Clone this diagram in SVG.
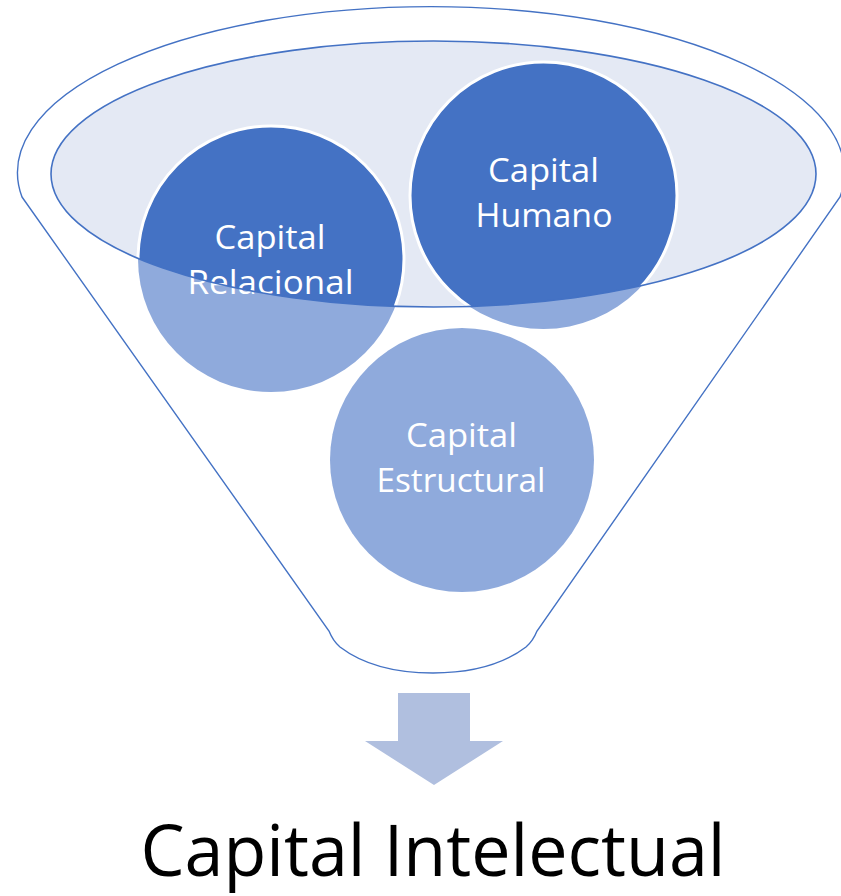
<svg xmlns="http://www.w3.org/2000/svg" width="841" height="896" viewBox="0 0 841 896">
<style>
.outline{fill:#FFFFFF;stroke:#4472C4;stroke-width:1.4}
.rim{fill:#E4E9F4;stroke:none}
.rimline{fill:none;stroke:#4472C4;stroke-width:1.6}
.light{fill:#8FAADC}
.dark{fill:#4472C4;stroke:#FFFFFF;stroke-width:3}
.lbl{font-family:"Open Sans","Noto Sans","Liberation Sans",sans-serif;font-size:32px;fill:#FFFFFF;text-anchor:middle}
.title{font-family:"Open Sans","Noto Sans","Liberation Sans",sans-serif;font-size:71px;fill:#000000;text-anchor:middle}
.arrow{fill:#B0BFDF}
</style>
<defs>
<clipPath id="rimClip"><ellipse cx="433.5" cy="174" rx="382.5" ry="133"/></clipPath>
</defs>
<g id="funnel">
<path class="outline" d="M 22 197 L 329 631 Q 333 641 340 647 C 365 666 400 673 433 673 C 466 673 501 666 526 647 Q 533 641 537 631 L 840 197 A 413.5 166 0 1 0 22 197 Z"/>
<ellipse class="rim" cx="433.5" cy="174" rx="382.5" ry="133"/>
</g>
<g id="connectors">
<path id="arrow" class="arrow" d="M 398 693 L 470 693 L 470 741 L 503 741 L 434 785 L 365 741 L 398 741 Z"/>
</g>
<g id="node-relacional">
<circle class="light" cx="271" cy="259" r="133"/>
<circle class="dark" cx="271" cy="259" r="133" clip-path="url(#rimClip)"/>
</g>
<g id="node-humano">
<circle class="light" cx="543.5" cy="195.5" r="133.5"/>
<circle class="dark" cx="543.5" cy="195.5" r="133.5" clip-path="url(#rimClip)"/>
</g>
<g id="node-estructural">
<circle class="light" cx="462" cy="460" r="132"/>
</g>
<g id="labels">
<text class="lbl" x="270" y="249" textLength="111" lengthAdjust="spacingAndGlyphs">Capital</text>
<text class="lbl" x="270.5" y="294" textLength="166" lengthAdjust="spacingAndGlyphs">Relacional</text>
<text class="lbl" x="543.5" y="182" textLength="111" lengthAdjust="spacingAndGlyphs">Capital</text>
<text class="lbl" x="544" y="227" textLength="137" lengthAdjust="spacingAndGlyphs">Humano</text>
<text class="lbl" x="461.5" y="447" textLength="111" lengthAdjust="spacingAndGlyphs">Capital</text>
<text class="lbl" x="461" y="492" textLength="169" lengthAdjust="spacingAndGlyphs">Estructural</text>
</g>
<ellipse id="rim-edge" class="rimline" cx="433.5" cy="174" rx="382.5" ry="133"/>
<g id="node-title">
<text class="title" x="433" y="876" textLength="585" lengthAdjust="spacingAndGlyphs">Capital Intelectual</text>
</g>
</svg>
